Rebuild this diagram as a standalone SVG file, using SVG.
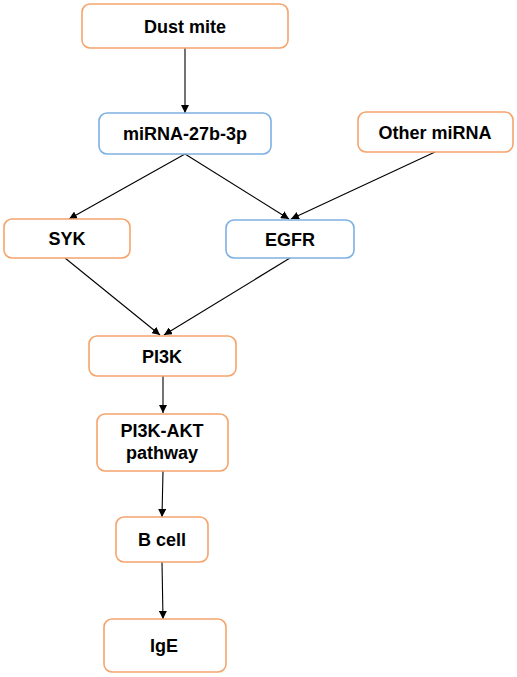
<svg xmlns="http://www.w3.org/2000/svg" width="517" height="677" viewBox="0 0 517 677">
<defs>
<style>
.o{fill:#fff;stroke:#F5A46C;stroke-width:1.6}
.b{fill:#fff;stroke:#7DB0E2;stroke-width:1.6}
.t{font-family:"Liberation Sans",Arial,sans-serif;font-weight:bold;font-size:18px;fill:#000;text-anchor:middle}
.c line{stroke:#000;stroke-width:1.1;marker-end:url(#ah)}
</style>
<marker id="ah" viewBox="0 0 10 10" refX="10" refY="5" markerWidth="8" markerHeight="8" markerUnits="userSpaceOnUse" orient="auto">
<path d="M0,0 L10,5 L0,10 Z" fill="#000"/>
</marker>
</defs>
<rect width="517" height="677" fill="#fff"/>
<g id="connectors" class="c">
<line x1="185" y1="48" x2="185" y2="113"/>
<line x1="185" y1="154" x2="69" y2="219"/>
<line x1="185" y1="154" x2="289" y2="219"/>
<line x1="435" y1="152" x2="291" y2="219"/>
<line x1="65" y1="258" x2="160" y2="335"/>
<line x1="290" y1="258" x2="164" y2="335"/>
<line x1="163" y1="376" x2="163" y2="413"/>
<line x1="163" y1="471" x2="162" y2="517"/>
<line x1="162" y1="562" x2="163" y2="619"/>
</g>
<g id="dust-mite"><rect class="o" x="82" y="4" width="206" height="44" rx="8"/><text class="t" x="185" y="32.5">Dust mite</text></g>
<g id="mirna-27b"><rect class="b" x="99" y="113" width="172" height="41" rx="8"/><text class="t" x="185" y="140">miRNA-27b-3p</text></g>
<g id="other-mirna"><rect class="o" x="358" y="112" width="155" height="40" rx="8"/><text class="t" x="435" y="138.5">Other miRNA</text></g>
<g id="syk"><rect class="o" x="4" y="219" width="126" height="39" rx="8"/><text class="t" x="67" y="245">SYK</text></g>
<g id="egfr"><rect class="b" x="226" y="220" width="128" height="38" rx="8"/><text class="t" x="290" y="245.5">EGFR</text></g>
<g id="pi3k"><rect class="o" x="89" y="336" width="147" height="40" rx="8"/><text class="t" x="162" y="362.5">PI3K</text></g>
<g id="pi3k-akt"><rect class="o" x="97" y="414" width="131" height="57" rx="8"/><text class="t" x="162" y="437">PI3K-AKT</text><text class="t" x="162" y="459">pathway</text></g>
<g id="b-cell"><rect class="o" x="116" y="517" width="92" height="45" rx="8"/><text class="t" x="162" y="545.5">B cell</text></g>
<g id="ige"><rect class="o" x="104" y="619" width="122" height="53" rx="8"/><text class="t" x="164" y="652">IgE</text></g>
</svg>
